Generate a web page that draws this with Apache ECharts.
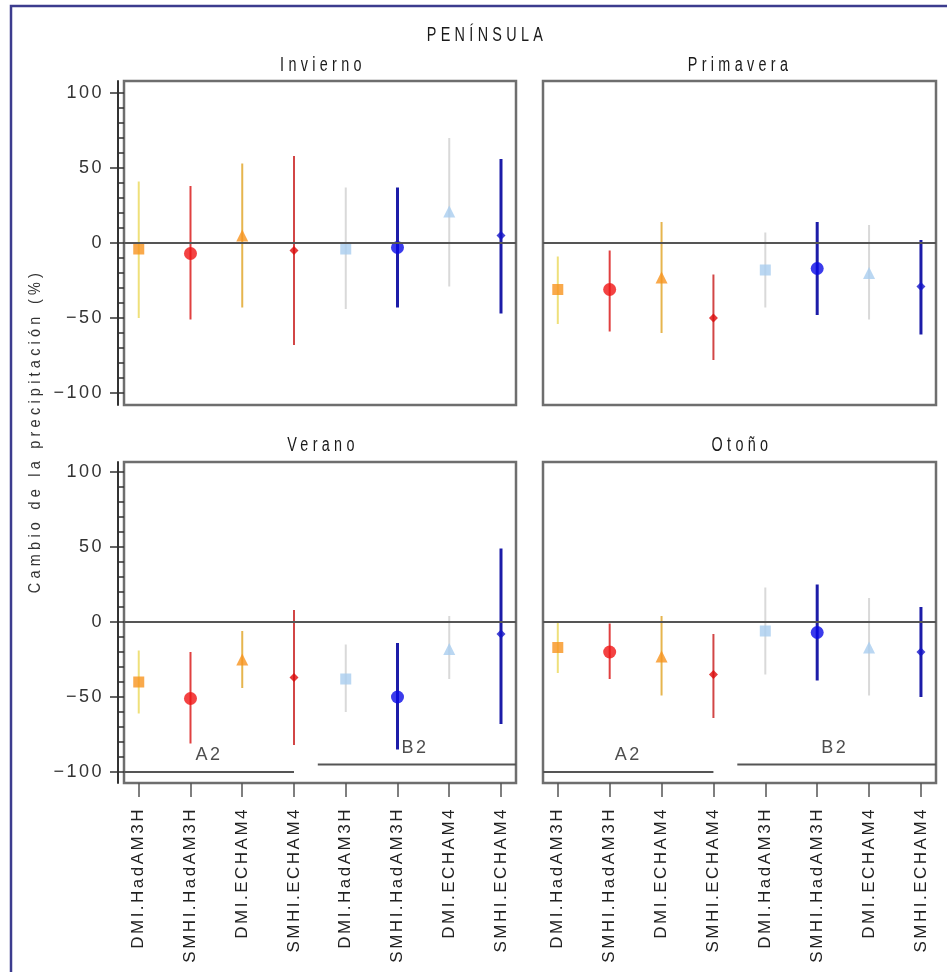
<!DOCTYPE html>
<html><head><meta charset="utf-8">
<script src="https://cdn.jsdelivr.net/npm/echarts@6/dist/echarts.min.js"></script>
<style>html,body{margin:0;padding:0;background:#fff}#c{width:947px;height:972px}</style>
</head><body><div id="c"></div>
<script>
// ---------- DATA ----------
const models = ['DMI.HadAM3H','SMHI.HadAM3H','DMI.ECHAM4','SMHI.ECHAM4','DMI.HadAM3H','SMHI.HadAM3H','DMI.ECHAM4','SMHI.ECHAM4'];
const seasons = ['Invierno','Primavera','Verano','Otoño'];
const yTickValues = [-100, -50, 0, 50, 100];

const invMid  = [-4, -7,  5,  -5,  -4,  -3,  21,   5];
const invHigh = [41, 38, 53,  58,  37,  37,  70,  56];
const invLow  = [-50,-51,-43, -68, -44, -43, -29, -47];

const priMid  = [-31,-31,-23, -50, -18, -17, -20, -29];
const priHigh = [-9, -5,  14, -21,   7,  14,  12,   2];
const priLow  = [-54,-59,-60, -78, -43, -48, -51, -61];

const verMid  = [-40,-51,-25, -37, -38, -50, -18,  -8];
const verHigh = [-19,-20, -6,   8, -15, -14,   4,  49];
const verLow  = [-61,-81,-44, -82, -60, -85, -38, -68];

const otoMid  = [-17,-20,-23, -35,  -6,  -7, -17, -20];
const otoHigh = [  0, -1,  4,  -8,  23,  25,  16,  10];
const otoLow  = [-34,-38,-49, -64, -35, -39, -49, -50];

const scenarioNames = ['A2', 'B2'];
const scenarioLineY = [-100, -95];
const scenarioFrom  = [-0.285, 3.46];
const scenarioTo    = [3, 7.29];
const scenarioTextX = [1.36, 5.34];
const scenarioTextY = [-89, -84];

// ---------- STYLE ----------
const markerSymbol = ['rect','circle','triangle','diamond','rect','circle','triangle','diamond'];
const markerSize   = [11, 13, 12, 9, 11, 13, 12, 9];
const markerColor  = ['#f7931e','#f01414','#f7931e','#dc0a0a','#a9cdef','#0a0ae6','#a9cdef','#1414c8'];
const barColor     = ['#efe07a','#e04040','#e6b54e','#d24646','#d9d9d9','#1c1ca8','#d9d9d9','#1c1ca8'];
const barWidth     = [2, 2, 2, 2, 2, 3, 2, 3];

const panelData = [
  {mid: invMid, high: invHigh, low: invLow},
  {mid: priMid, high: priHigh, low: priLow},
  {mid: verMid, high: verHigh, low: verLow},
  {mid: otoMid, high: otoHigh, low: otoLow}
];

// panel geometry (pixels)
const panels = [
  {left:124, width:392, top:81,  height:324, dTop:93,  dHeight:300, yAxis:true,  cats:false},
  {left:543, width:393, top:81,  height:324, dTop:93,  dHeight:300, yAxis:false, cats:false},
  {left:124, width:392, top:462, height:321, dTop:472, dHeight:300, yAxis:true,  cats:true},
  {left:543, width:393, top:462, height:321, dTop:472, dHeight:300, yAxis:false, cats:true}
];
const xMin = -0.285, xMax = 7.29;

// font families; the original is typeset with letter spacing, applied per family here
const TITLE_FONT = "LSTitle, 'Liberation Sans', sans-serif";
const AXIS_TITLE_FONT = "LSAxis, 'Liberation Sans', sans-serif";
const FONT = "'Liberation Sans', sans-serif";
(function () {
  const P = CanvasRenderingContext2D.prototype;
  const pick = ctx => {
    const f = ctx.font || '';
    if (f.indexOf('LSTitle') >= 0) return '6px';
    if (f.indexOf('LSAxis') >= 0) return '5px';
    return '2.5px';
  };
  const of = P.fillText, os = P.strokeText;
  P.fillText = function (t, x, y, m) { if ('letterSpacing' in this) this.letterSpacing = pick(this); return m === undefined ? of.call(this, t, x, y) : of.call(this, t, x, y, m); };
  P.strokeText = function (t, x, y, m) { if ('letterSpacing' in this) this.letterSpacing = pick(this); return m === undefined ? os.call(this, t, x, y) : os.call(this, t, x, y, m); };
})();

const minus = v => String(v).replace('-', '\u2212');

const grid = [], xAxis = [], yAxis = [], series = [];
panels.forEach((p, k) => {
  // frame grid
  const gF = grid.length;
  grid.push({left:p.left, top:p.top, width:p.width, height:p.height, show:true,
    borderColor:'#6e6e6e', borderWidth:2.5, backgroundColor:'#fff'});
  xAxis.push({gridIndex:gF, type:'value', min:0, max:1, show:false});
  yAxis.push({gridIndex:gF, type:'value', min:0, max:1, show:p.yAxis, offset:6, position:'left',
    axisLine:{show:true, onZero:false, lineStyle:{color:'#333', width:2}},
    axisTick:{show:false}, axisLabel:{show:false}, splitLine:{show:false}});
  // data grid
  const gD = grid.length;
  grid.push({left:p.left, top:p.dTop, width:p.width, height:p.dHeight});
  const xi = xAxis.length;
  xAxis.push({gridIndex:gD, type:'value', min:xMin, max:xMax, show:false});
  const yi = yAxis.length;
  yAxis.push({gridIndex:gD, type:'value', min:-100, max:100, interval:50, show:p.yAxis, offset:6, position:'left',
    axisLine:{show:false, onZero:false},
    axisTick:{show:true, length:8, lineStyle:{color:'#333', width:1.5}},
    minorTick:{show:false},
    splitLine:{show:false},
    axisLabel:{show:true, margin:14, fontSize:18, color:'#333', fontFamily:FONT,
      formatter: v => yTickValues.includes(v) ? minus(v) : ''}});
  if (p.yAxis) {
    // inner ticks (major + minor) between axis line and frame
    yAxis.push({gridIndex:gD, type:'value', min:-100, max:100, interval:50, offset:6, position:'left',
      axisLine:{show:false, onZero:false},
      axisTick:{show:true, inside:true, length:6, lineStyle:{color:'#333', width:1.5}},
      minorTick:{show:true, splitNumber:5, length:6, lineStyle:{color:'#333', width:1.5}},
      splitLine:{show:false}, axisLabel:{show:false}});
  }
  const d = panelData[k];
  // zero line
  series.push({type:'line', xAxisIndex:xi, yAxisIndex:yi, data:[], silent:true,
    markLine:{silent:true, symbol:'none', label:{show:false},
      lineStyle:{color:'#555', width:2.2, type:'solid'}, data:[{yAxis:0}]}});
  // error bars
  series.push({type:'custom', xAxisIndex:xi, yAxisIndex:yi, silent:true, z:3,
    data: models.map((m, i) => [i, d.low[i], d.high[i]]),
    renderItem: (params, api) => {
      const i = params.dataIndex;
      const a = api.coord([api.value(0), api.value(1)]);
      const b = api.coord([api.value(0), api.value(2)]);
      return {type:'line', shape:{x1:a[0], y1:a[1], x2:b[0], y2:b[1]},
        style:{stroke:barColor[i], lineWidth:barWidth[i]}};
    }});
  // markers
  series.push({type:'scatter', xAxisIndex:xi, yAxisIndex:yi, silent:true, z:4,
    data: models.map((m, i) => ({value:[i, d.mid[i]], symbol:markerSymbol[i],
      symbolSize:markerSize[i], itemStyle:{color:markerColor[i]}}))});
  if (p.cats) {
    // scenario lines & labels
    scenarioNames.forEach((s, j) => {
      series.push({type:'line', xAxisIndex:xi, yAxisIndex:yi, silent:true, symbol:'none', z:2,
        lineStyle:{color:'#555', width:2},
        data:[[scenarioFrom[j], scenarioLineY[j]], [scenarioTo[j], scenarioLineY[j]]]});
    });
    series.push({type:'scatter', xAxisIndex:xi, yAxisIndex:yi, silent:true, symbolSize:0,
      data: scenarioNames.map((s, j) => ({name:s, value:[scenarioTextX[j], scenarioTextY[j]]})),
      label:{show:true, position:'inside', formatter:'{b}', fontSize:18, color:'#222', fontFamily:FONT}});
    // category label grid
    const u = p.width / (xMax - xMin);
    const c0 = p.left + (0 - xMin) * u;
    const gL = grid.length;
    grid.push({left:c0 - u / 2, width:u * 8, top:p.top, height:p.height});
    xAxis.push({gridIndex:gL, type:'category', data:models, position:'bottom',
      axisLine:{show:false},
      axisTick:{show:true, alignWithLabel:true, length:14, lineStyle:{color:'#555', width:1.5}},
      axisLabel:{show:true, interval:0, rotate:90, margin:24, fontSize:17, color:'#222', fontFamily:FONT}});
    yAxis.push({gridIndex:gL, type:'value', show:false});
  }
});

const chart = echarts.init(document.getElementById('c'), null, {renderer:'canvas'});
const titleText = (t, x, y) => ({type:'text', x:x, y:y, scaleX:0.72, silent:true,
  style:{text:t, fill:'#1a1a1a', font:"20px " + TITLE_FONT, textAlign:'center', textVerticalAlign:'middle'}});
chart.setOption({
  animation:false,
  backgroundColor:'#fff',
  grid, xAxis, yAxis, series,
  graphic:[
    {type:'rect', shape:{x:11, y:6, width:1000, height:1000}, silent:true,
      style:{fill:'none', stroke:'#3c3c8e', lineWidth:2.5}},
    titleText('PENÍNSULA', 487, 35),
    titleText(seasons[0], 323, 65),
    titleText(seasons[1], 740, 65),
    titleText(seasons[2], 323, 445),
    titleText(seasons[3], 742, 445),
    {type:'text', x:35, y:431, rotation:Math.PI / 2, scaleX:0.85, silent:true,
      style:{text:'Cambio de la precipitación (%)', fill:'#333', font:"17px " + AXIS_TITLE_FONT, textAlign:'center', textVerticalAlign:'middle'}}
  ]
});
</script></body></html>
